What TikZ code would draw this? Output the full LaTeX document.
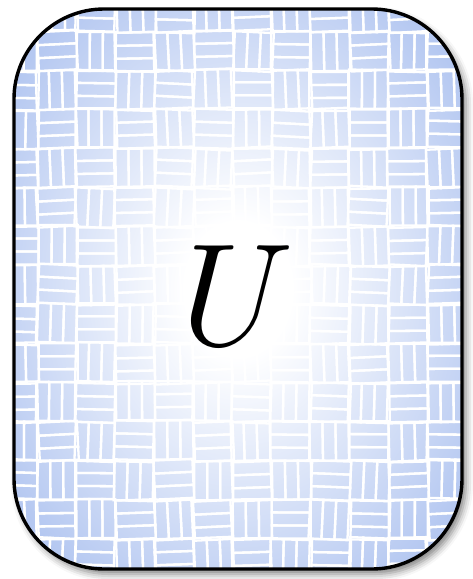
\documentclass[tikz,border=0pt]{standalone}
\usetikzlibrary{shadows.blur}
\definecolor{edgeblue}{HTML}{B5C8F1}
\pgfdeclareradialshading{myrad}{\pgfpoint{0bp}{0bp}}{color(0bp)=(white); color(6bp)=(white); color(31bp)=(edgeblue); color(50bp)=(edgeblue)}
\tikzset{
  gap/.style={draw=white, line width=2.3pt},
  outline/.style={rounded corners=90pt},
}
\begin{document}
\begin{tikzpicture}[x=1pt,y=-1pt]
\useasboundingbox (0,0) rectangle (472,579);
% shadow + base
\path[outline, fill=white, blur shadow={shadow xshift=4pt, shadow yshift=-5pt, shadow blur radius=7pt, shadow opacity=50}] (14,9) rectangle (462,569);
\shade[outline, shading=myrad] (14,9) rectangle (462,569);
\pgfmathsetseed{7}
\begin{scope}
  \clip[outline] (14,9) rectangle (462,569);
  \foreach \i in {0,...,12}{
    \foreach \j in {0,...,15}{
      \pgfmathsetmacro{\cx}{\i*39+18+rand*1.5}
      \pgfmathsetmacro{\cy}{\j*39+12+rand*1.5}
      \pgfmathsetmacro{\rot}{rand*3}
      \pgfmathtruncatemacro{\parity}{mod(\i+\j,2)}
      \begin{scope}[shift={(\cx,\cy)}, rotate=\rot]
        \ifnum\parity=0
          \draw[gap] (-19.5,-19.5) rectangle (19.5,-6.5);
          \draw[gap] (-19.5,-6.5) rectangle (19.5,6.5);
          \draw[gap] (-19.5,6.5) rectangle (19.5,19.5);
        \else
          \draw[gap] (-19.5,-19.5) rectangle (-6.5,19.5);
          \draw[gap] (-6.5,-19.5) rectangle (6.5,19.5);
          \draw[gap] (6.5,-19.5) rectangle (19.5,19.5);
        \fi
      \end{scope}
    }
  }
\end{scope}
\draw[outline, line width=3.4pt] (14,9) rectangle (462,569);
\node[scale=5.87, inner sep=0pt] (u) at (238,296) {\Huge $U$};
\end{tikzpicture}
\end{document}
